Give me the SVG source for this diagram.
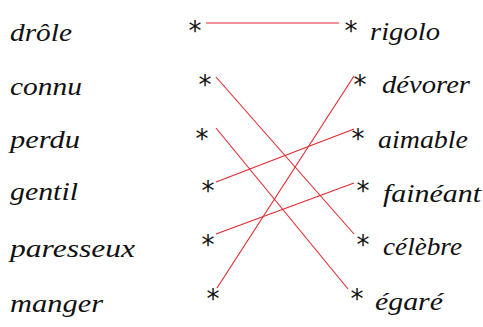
<svg xmlns="http://www.w3.org/2000/svg" width="483" height="327" viewBox="0 0 483 327">
<style>
.w{font-family:"Liberation Serif","DejaVu Serif",serif;font-style:italic;font-size:26px;fill:#111}
.s{font-family:"DejaVu Sans","Liberation Sans",sans-serif;font-size:26px;fill:#111;text-anchor:middle}
.c line{stroke:#e0282e;stroke-width:1.1}
</style>
<rect width="483" height="327" fill="#fff"/>
<g id="left-drole"><text class="w" x="10" y="41" textLength="62" lengthAdjust="spacingAndGlyphs">drôle</text><text class="s" x="195" y="40">*</text></g>
<g id="left-connu"><text class="w" x="10" y="95" textLength="72" lengthAdjust="spacingAndGlyphs">connu</text><text class="s" x="205" y="94">*</text></g>
<g id="left-perdu"><text class="w" x="10" y="148" textLength="70" lengthAdjust="spacingAndGlyphs">perdu</text><text class="s" x="202" y="148">*</text></g>
<g id="left-gentil"><text class="w" x="10" y="200" textLength="68" lengthAdjust="spacingAndGlyphs">gentil</text><text class="s" x="208" y="200">*</text></g>
<g id="left-paresseux"><text class="w" x="10" y="257" textLength="125" lengthAdjust="spacingAndGlyphs">paresseux</text><text class="s" x="208" y="254">*</text></g>
<g id="left-manger"><text class="w" x="10" y="312" textLength="93" lengthAdjust="spacingAndGlyphs">manger</text><text class="s" x="213" y="308">*</text></g>
<g id="right-rigolo"><text class="s" x="351" y="40">*</text><text class="w" x="370" y="40" textLength="70" lengthAdjust="spacingAndGlyphs">rigolo</text></g>
<g id="right-devorer"><text class="s" x="360" y="94">*</text><text class="w" x="382" y="93" textLength="88" lengthAdjust="spacingAndGlyphs">dévorer</text></g>
<g id="right-aimable"><text class="s" x="358" y="148">*</text><text class="w" x="378" y="148" textLength="90" lengthAdjust="spacingAndGlyphs">aimable</text></g>
<g id="right-faineant"><text class="s" x="363" y="200">*</text><text class="w" x="383" y="202" textLength="98" lengthAdjust="spacingAndGlyphs">fainéant</text></g>
<g id="right-celebre"><text class="s" x="363" y="254">*</text><text class="w" x="383" y="255" textLength="79" lengthAdjust="spacingAndGlyphs">célèbre</text></g>
<g id="right-egare"><text class="s" x="357" y="308">*</text><text class="w" x="375" y="310" textLength="68" lengthAdjust="spacingAndGlyphs">égaré</text></g>
<g id="connectors" class="c">
<line x1="206" y1="23" x2="339" y2="23"/>
<line x1="216" y1="77" x2="354" y2="234"/>
<line x1="216" y1="128" x2="348" y2="289"/>
<line x1="216" y1="182" x2="354" y2="129"/>
<line x1="216" y1="234" x2="354" y2="183"/>
<line x1="217" y1="288" x2="354" y2="76"/>
</g>
</svg>
